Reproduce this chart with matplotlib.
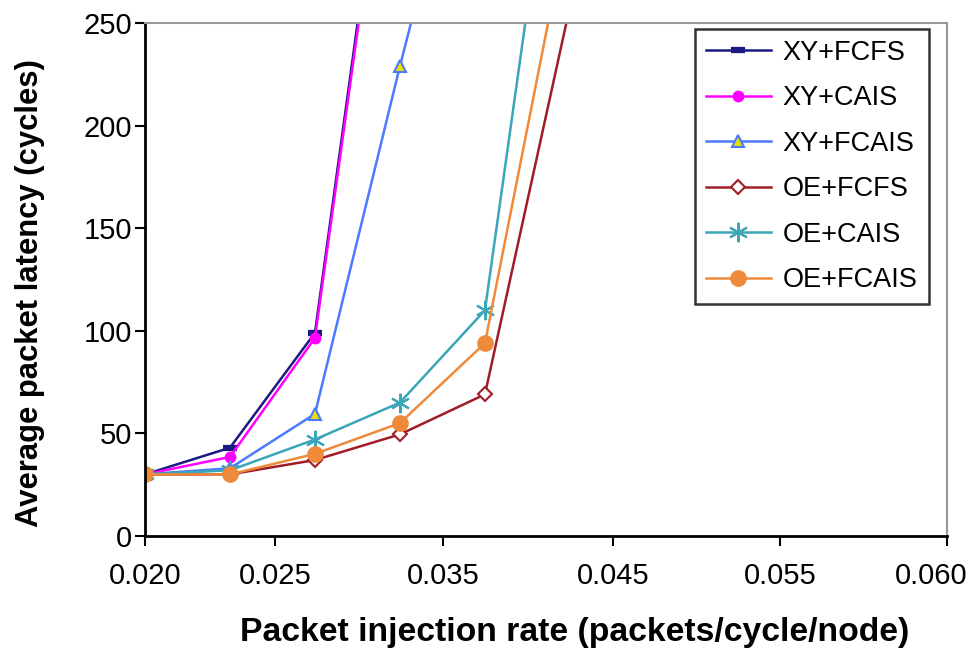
import matplotlib.pyplot as plt
import matplotlib.transforms as mtransforms

plt.rcParams['font.family'] = ['Liberation Sans', 'DejaVu Sans']

# injection rates (packets/cycle/node) and latencies (cycles)
rates = [0.020, 0.025, 0.030, 0.035, 0.040, 0.045]
xy_fcfs = [30, 43, 99, 400]
xy_cais = [30, 38.5, 96.5, 395]
xy_fcais = [30, 33, 59.5, 229, 390]
oe_fcfs = [30, 30, 37, 49.5, 69, 258]
oe_cais = [30, 32, 47, 65, 110, 405]
oe_fcais = [30, 30, 40, 55, 94, 304]

labels = ['XY+FCFS', 'XY+CAIS', 'XY+FCAIS', 'OE+FCFS', 'OE+CAIS', 'OE+FCAIS']
colors = ['#1a1a80', '#ff00ff', '#4d79ff', '#a01c26', '#3aa6b8', '#ee8a3a']
series = [xy_fcfs, xy_cais, xy_fcais, oe_fcfs, oe_cais, oe_fcais]

# tick marks as placed in the picture (labels are as printed there)
tick_pos = [0.0200, 0.02765, 0.03753, 0.04753, 0.05735, 0.06718]
tick_lab = ['0.020', '0.025', '0.035', '0.045', '0.055', '0.060']

fig = plt.figure(figsize=(9.69, 6.56), dpi=100)
ax = fig.add_axes([0.1496, 0.183, 0.8277, 0.782])

styles = [
    dict(marker='_', markersize=10, markeredgewidth=4.5),
    dict(marker='o', markersize=7.5),
    dict(marker='^', markersize=8, markerfacecolor='#e8e000', markeredgewidth=1.5),
    dict(marker='D', markersize=7.5, markerfacecolor='white', markeredgewidth=1.5),
    dict(marker=(6, 2, 0), markersize=14, markeredgewidth=1.5),
    dict(marker='o', markersize=11),
]

for vals, lab, c, st in zip(series, labels, colors, styles):
    ax.plot(rates[:len(vals)], vals, color=c, linewidth=1.8, label=lab, **st)

ax.set_xlim(0.020, 0.06718)
ax.set_ylim(0, 250)
ax.set_yticks([0, 50, 100, 150, 200, 250])
ax.set_xticks(tick_pos)
ax.set_xticklabels(tick_lab)
ax.tick_params(axis='both', labelsize=21, length=7, width=1.5, direction='out')
ax.tick_params(axis='x', pad=12)
ax.tick_params(axis='y', pad=2)

# last x label sits fully inside the picture
last = ax.get_xticklabels()[-1]
last.set_horizontalalignment('right')
last.set_transform(last.get_transform() +
                   mtransforms.ScaledTranslation(0.20, 0, fig.dpi_scale_trans))

for s in ['top', 'right']:
    ax.spines[s].set_color('#999999')
    ax.spines[s].set_linewidth(1.5)
for s in ['left', 'bottom']:
    ax.spines[s].set_linewidth(2)

ax.set_xlabel('Packet injection rate (packets/cycle/node)', fontsize=24.3,
              fontweight='bold')
ax.xaxis.set_label_coords(0.536, -0.158)
ax.set_ylabel('Average packet latency (cycles)', fontsize=22.3,
              fontweight='bold')
ax.yaxis.set_label_coords(-0.125, 0.474)

leg = ax.legend(loc='upper right', bbox_to_anchor=(0.977, 0.988), fontsize=19.5,
                frameon=True, fancybox=False, edgecolor='black',
                handlelength=2.4, handletextpad=0.45, labelspacing=0.72,
                borderpad=0.4, borderaxespad=0)
leg.get_frame().set_linewidth(1.8)

plt.savefig('out.png', dpi=100)
